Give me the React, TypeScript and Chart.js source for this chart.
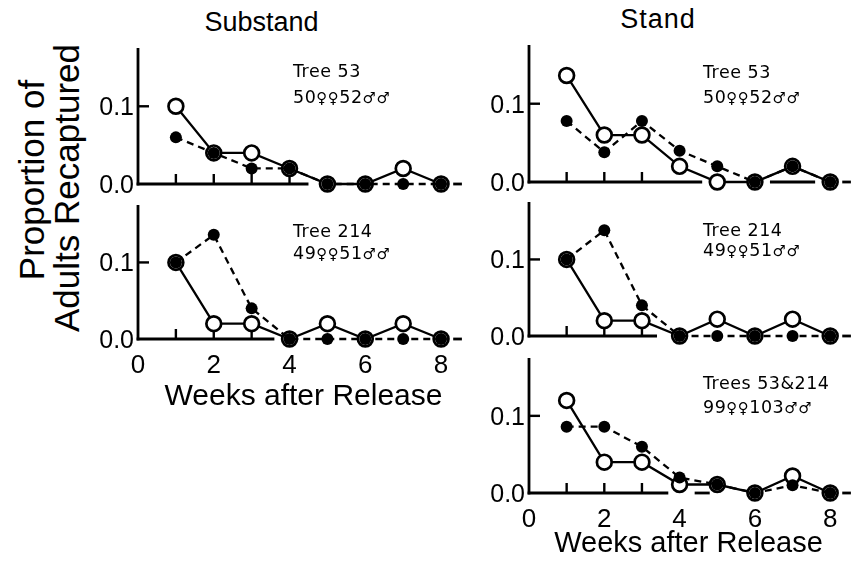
import React, { useEffect, useRef } from 'react';
import { Chart, registerables } from 'chart.js';

Chart.register(...registerables);

// ---------------- data ----------------
const weeks = [1, 2, 3, 4, 5, 6, 7, 8];
const xTickValues = [0, 2, 4, 6, 8];
const yTickValues = [0, 0.1];

const substandTree53Open = [0.10, 0.04, 0.04, 0.02, 0, 0, 0.02, 0];
const substandTree53Filled = [0.06, 0.04, 0.02, 0.02, 0, 0, 0, 0];
const substandTree214Open = [0.10, 0.02, 0.02, 0, 0.02, 0, 0.02, 0];
const substandTree214Filled = [0.10, 0.136, 0.04, 0, 0, 0, 0, 0];
const standTree53Open = [0.136, 0.06, 0.06, 0.02, 0, 0, 0.02, 0];
const standTree53Filled = [0.078, 0.038, 0.078, 0.04, 0.02, 0, 0.02, 0];
const standTree214Open = [0.10, 0.02, 0.02, 0, 0.022, 0, 0.022, 0];
const standTree214Filled = [0.10, 0.138, 0.04, 0, 0, 0, 0, 0];
const standBothOpen = [0.12, 0.04, 0.04, 0.011, 0.011, 0, 0.022, 0];
const standBothFilled = [0.086, 0.086, 0.06, 0.02, 0.011, 0, 0.01, 0];

const columnTitles = ['Substand', 'Stand'];
const yAxisTitleLines = ['Proportion of', 'Adults Recaptured'];
const xAxisTitle = 'Weeks after Release';

// ---------------- styling / layout ----------------
const SANS = '"Liberation Sans", Arial, sans-serif';
const ANNOT = '"DejaVu Sans", sans-serif';
const X_MAX = 8.55;
const Y_MAX = 0.175;
const PAD_T = 14;
const PAD_B = 12;
const XAXIS_H = 40;

type PanelDef = {
  open: number[];
  filled: number[];
  canvasLeft: number;
  canvasRight: number;
  axisX: number;
  plotTop: number;
  plotBottom: number;
  showX: boolean;
  segments: number[][];
  tickWeeks: number[];
  lines: string[];
  textX: number;
  baselines: number[];
};

const LEFT = { canvasLeft: 60, canvasRight: 472, axisX: 138 };
const RIGHT = { canvasLeft: 470, canvasRight: 861, axisX: 529 };

const panels: PanelDef[] = [
  {
    open: substandTree53Open, filled: substandTree53Filled, ...LEFT,
    plotTop: 48, plotBottom: 184, showX: false,
    segments: [[0, 4.5], [8.32, 8.55]], tickWeeks: [1, 2, 3, 4],
    lines: ['Tree 53', '50♀♀52♂♂'], textX: 293, baselines: [78, 104],
  },
  {
    open: substandTree214Open, filled: substandTree214Filled, ...LEFT,
    plotTop: 205, plotBottom: 339, showX: true,
    segments: [[0, 3.6], [8.32, 8.55]], tickWeeks: [1, 2, 3],
    lines: ['Tree 214', '49♀♀51♂♂'], textX: 293, baselines: [238, 260],
  },
  {
    open: standTree53Open, filled: standTree53Filled, ...RIGHT,
    plotTop: 45, plotBottom: 182, showX: false,
    segments: [[0, 4.6], [6.4, 7.6], [8.32, 8.55]], tickWeeks: [1, 2, 3],
    lines: ['Tree 53', '50♀♀52♂♂'], textX: 703, baselines: [79, 104],
  },
  {
    open: standTree214Open, filled: standTree214Filled, ...RIGHT,
    plotTop: 202, plotBottom: 336, showX: false,
    segments: [[0, 3.4], [8.32, 8.55]], tickWeeks: [1, 2, 3],
    lines: ['Tree 214', '49♀♀51♂♂'], textX: 703, baselines: [237, 257],
  },
  {
    open: standBothOpen, filled: standBothFilled, ...RIGHT,
    plotTop: 358, plotBottom: 493, showX: true,
    segments: [[0, 3.7], [4.4, 4.8], [8.32, 8.55]], tickWeeks: [1, 2, 3],
    lines: ['Trees 53&214', '99♀♀103♂♂'], textX: 703, baselines: [390, 414],
  },
];

const axisDecor = {
  id: 'axisDecor',
  beforeDatasetsDraw(chart: any, _args: any, opts: any) {
    const { ctx, scales } = chart;
    const x = scales.x;
    const y = scales.y;
    const y0 = y.getPixelForValue(0);
    const x0 = x.getPixelForValue(0);
    ctx.save();
    ctx.strokeStyle = '#000';
    ctx.lineWidth = 2.8;
    ctx.lineCap = 'butt';
    // y axis line
    ctx.beginPath();
    ctx.moveTo(x0, y.getPixelForValue(Y_MAX));
    ctx.lineTo(x0, y0 + 1.4);
    ctx.stroke();
    // x axis pieces
    for (const [a, b] of opts.segments) {
      ctx.beginPath();
      ctx.moveTo(a === 0 ? x0 - 1.4 : x.getPixelForValue(a), y0);
      ctx.lineTo(x.getPixelForValue(b), y0);
      ctx.stroke();
    }
    // x tick marks (pointing up)
    ctx.lineWidth = 2.4;
    for (const w of opts.tickWeeks) {
      const px = x.getPixelForValue(w);
      ctx.beginPath();
      ctx.moveTo(px, y0);
      ctx.lineTo(px, y0 - 10);
      ctx.stroke();
    }
    // y tick at 0.1 (pointing in)
    const py = y.getPixelForValue(0.1);
    ctx.beginPath();
    ctx.moveTo(x0, py);
    ctx.lineTo(x0 + 11, py);
    ctx.stroke();
    ctx.restore();
  },
};

function Panel({ def }: { def: PanelDef }) {
  const ref = useRef<HTMLCanvasElement | null>(null);
  const width = def.canvasRight - def.canvasLeft;
  const plotH = def.plotBottom - def.plotTop;
  const height = PAD_T + plotH + (def.showX ? XAXIS_H : PAD_B);
  const top = def.plotTop - PAD_T;
  const axisW = def.axisX - def.canvasLeft;

  useEffect(() => {
    if (!ref.current) return;
    const chart = new Chart(ref.current, {
      type: 'line',
      data: {
        datasets: [
          {
            label: 'filled',
            data: weeks.map((w, i) => ({ x: w, y: def.filled[i] })),
            borderColor: '#000',
            borderWidth: 2.3,
            borderDash: [7, 5],
            pointRadius: 6,
            pointBackgroundColor: '#000',
            pointBorderColor: '#000',
            pointBorderWidth: 0,
            fill: false,
            tension: 0,
            clip: false as any,
            order: 0,
          },
          {
            label: 'open',
            data: weeks.map((w, i) => ({ x: w, y: def.open[i] })),
            borderColor: '#000',
            borderWidth: 2.3,
            pointRadius: 7.4,
            pointBackgroundColor: '#fff',
            pointBorderColor: '#000',
            pointBorderWidth: 2.7,
            fill: false,
            tension: 0,
            clip: false as any,
            order: 1,
          },
        ],
      },
      options: {
        responsive: false,
        animation: false,
        devicePixelRatio: 1,
        events: [],
        layout: { padding: { top: PAD_T, right: 0, left: 0, bottom: def.showX ? 0 : PAD_B } },
        plugins: {
          legend: { display: false },
          tooltip: { enabled: false },
          axisDecor: { segments: def.segments, tickWeeks: def.tickWeeks },
        } as any,
        scales: {
          x: {
            type: 'linear',
            min: 0,
            max: X_MAX,
            display: def.showX,
            grid: { display: false, drawTicks: false },
            border: { display: false },
            afterBuildTicks: (s: any) => {
              s.ticks = xTickValues.map((v) => ({ value: v }));
            },
            afterFit: (s: any) => {
              s.height = def.showX ? XAXIS_H : 0;
              s.paddingLeft = 0;
              s.paddingRight = 0;
            },
            ticks: {
              font: { size: 26, family: SANS },
              color: '#000',
              padding: 11,
              maxRotation: 0,
              autoSkip: false,
              callback: (v: any) => String(v),
            },
          },
          y: {
            type: 'linear',
            min: 0,
            max: Y_MAX,
            grid: { display: false, drawTicks: false },
            border: { display: false },
            afterBuildTicks: (s: any) => {
              s.ticks = yTickValues.map((v) => ({ value: v }));
            },
            afterFit: (s: any) => {
              s.width = axisW;
              s.paddingTop = 0;
              s.paddingBottom = 0;
            },
            ticks: {
              font: { size: 25, family: SANS },
              color: '#000',
              padding: 4,
              labelOffset: 2,
              callback: (v: any) => Number(v).toFixed(1),
            },
          },
        },
      } as any,
      plugins: [axisDecor as any],
    });
    return () => chart.destroy();
  }, []);

  return (
    <canvas
      ref={ref}
      width={width}
      height={height}
      style={{ position: 'absolute', left: def.canvasLeft, top, width, height }}
    />
  );
}

function Txt(props: {
  x: number;
  y: number;
  size: number;
  family: string;
  center?: boolean;
  spacing?: number;
  children: React.ReactNode;
}) {
  const { x, y, size, family, center, spacing, children } = props;
  return (
    <div
      style={{
        position: 'absolute',
        left: x,
        top: y - 0.846 * size,
        fontSize: size,
        lineHeight: size + 'px',
        fontFamily: family,
        letterSpacing: spacing ? spacing + 'px' : undefined,
        whiteSpace: 'nowrap',
        color: '#000',
        transform: center ? 'translateX(-50%)' : undefined,
      }}
    >
      {children}
    </div>
  );
}

function Annot({ text, x, y }: { text: string; x: number; y: number }) {
  const parts = text.split(/([♀♂])/);
  return (
    <Txt x={x} y={y} size={17.5} family={ANNOT} spacing={0.5}>
      {parts.map((p, i) =>
        p === '♀' || p === '♂' ? (
          <span key={i} style={{ fontSize: 15 }}>{p}</span>
        ) : (
          <span key={i}>{p}</span>
        )
      )}
    </Txt>
  );
}

function RotLabel({ text, cx, cy }: { text: string; cx: number; cy: number }) {
  return (
    <div
      style={{
        position: 'absolute',
        left: cx,
        top: cy,
        fontSize: 35,
        lineHeight: '35px',
        fontFamily: SANS,
        whiteSpace: 'nowrap',
        color: '#000',
        transform: 'translate(-50%, -50%) rotate(-90deg)',
      }}
    >
      {text}
    </div>
  );
}

export default function App() {
  return (
    <div
      style={{
        position: 'fixed',
        left: 0,
        top: 0,
        width: 861,
        height: 563,
        background: '#fff',
        overflow: 'hidden',
      }}
    >
      <Txt x={261.5} y={32} size={27} family={SANS} center>
        {columnTitles[0]}
      </Txt>
      <Txt x={658} y={29} size={27} family={SANS} center spacing={1}>
        {columnTitles[1]}
      </Txt>
      <RotLabel text={yAxisTitleLines[0]} cx={31} cy={180} />
      <RotLabel text={yAxisTitleLines[1]} cx={66} cy={188} />
      {panels.map((p, i) => (
        <Panel key={i} def={p} />
      ))}
      {panels.map((p, i) => (
        <React.Fragment key={'a' + i}>
          <Annot text={p.lines[0]} x={p.textX} y={p.baselines[0]} />
          <Annot text={p.lines[1]} x={p.textX} y={p.baselines[1]} />
        </React.Fragment>
      ))}
      <Txt x={303.5} y={405} size={30} family={SANS} center>
        {xAxisTitle}
      </Txt>
      <Txt x={688.5} y={553} size={29} family={SANS} center>
        {xAxisTitle}
      </Txt>
    </div>
  );
}
